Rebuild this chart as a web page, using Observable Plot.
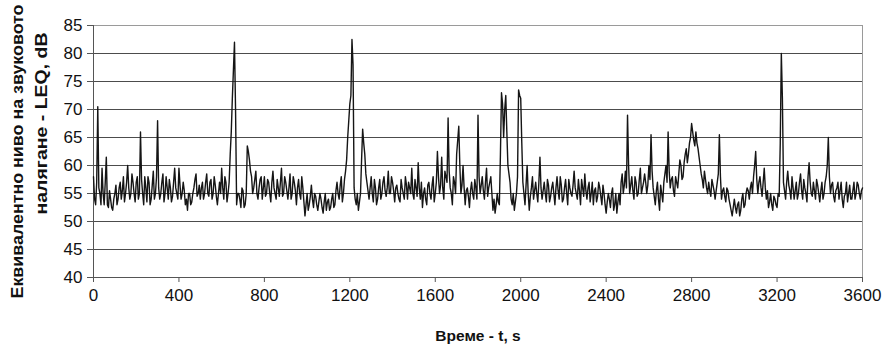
<!DOCTYPE html>
<html>
<head>
<meta charset="utf-8">
<script src="https://cdn.jsdelivr.net/npm/d3@7"></script>
<script src="https://cdn.jsdelivr.net/npm/@observablehq/plot@0.6"></script>
<style>
  html, body { margin: 0; padding: 0; background: white; }
  #chart { width: 884px; height: 346px; overflow: hidden; }
</style>
</head>
<body>
<div id="chart"></div>
<script>
// Sampling step of the series, seconds (values on the 10 s grid, plus readings half-way)
const step = 10;

// LEQ values, dB, at t = 0, 10, 20, ... s
const seg0000 = [58,53,70.5,55,59.5,53,61.5,52.5,54,52,55,53,56,54,58,55,60,54,58.5,55,
  57,54,66,55,58,53.5,57,54,59,55,68,54,57,53.5,58,54,56,54.5,59.5,55,
  59.5,54,57,53,52,55,53.5,56,58.5,55,54,57,55,58.5,54.5,57.5,55,56.5,53,57];
const seg0600 = [59.5,54,57,55,62,72,82,53,55,52.5,55.5,53,63.5,61,58,56,59,54,57.5,54,
  58,55,57,53.5,59,55,57.5,54.5,59.5,55,57,54,58.5,55,57,53,57.5,54,56,51,
  55,53,56.5,52.5,54.5,52,55,52.5,53.5,52,54,52.5,55,53,57,54,58,55,59,65];
const seg1200 = [71,82.5,56,53,52,55,66.5,62,57,54,58,53.5,56,54,57.5,55,58,54.5,59,55,
  57,53.5,56.5,54,57.5,55,58,54,56,59.5,54,56,60.5,54,52.5,56,53,57,54,58,
  55,62.5,55,61.5,54,58,68.5,56,53,57,62,67,55,60,53,56,52.5,57,54,56];
const seg1800 = [69,55,58,54,59.5,56,58,52,51.5,55,53,73,65,72.5,60,57,53,52,55,73.5,
  72,57,53,60,52,56,54,57,53.5,61.5,54,57,53.5,56.5,54.5,57,53,58,54,56.5,
  54,57.5,53,56,54.5,59,55,57.5,53,56,58.5,54,57,55,53,56,54.5,56,53,55];
const seg2400 = [51.5,55,52.5,56,53,51.5,55,57,55,59,69,55,58,54,57,55,59.5,56,58.5,55,
  60,65.5,56,53,57,52,55,57,60,66,56,58,54.5,57,58.5,60,58,62,60.5,64,
  67.5,64.5,66,63,60,57.5,59,56,57,54.5,56.5,54,57,65.5,54,56,53.5,55.5,53,51];
const seg3000 = [54,51.5,53.5,52,55,53,56,54,57,58,62.5,55,58,54.5,59.5,54,52.5,55,52,54,
  52.5,54.5,80,57,54,59,55.5,58,54,57,55,58.5,54,56,53.5,60.5,55,57,54,56.5,
  53.5,57,55,58,65,55,57,53.5,56,54,57,52.5,55,53.5,56.5,54,57,55,56.5,54,56];

// LEQ values, dB, at t = 5, 15, 25, ... s
const mid0000 = [54,57,56,53,55,57,53,55.5,52.5,54,
  56.5,54,57,55.5,53.5,57,56,55,57,53.5,
  58,55,57.5,53,56,58,53,56.5,54,58,
  56,55,58.5,55,56,57.5,53.5,57,56,54,
  56.5,55,55.5,54,55,53,55,57.5,54.5,56.5,
  56,54,57,55,57,54,58,54.5,55,55];
const mid0600 = [56,58,53.5,57,66,77,70,55,54,56,
  52.5,55,62.5,59,55,57.5,55,56,58,56,
  54.5,57.5,55,57,56,54,56,57,54.5,58,
  55.5,56,54,58,55.5,56,55,58,53.5,53,
  52,54.5,54,55,53,53.5,54,51.5,55,53.5,
  52,54,52.5,55.5,55,56.5,53.5,57.5,61,68];
const mid1200 = [72.5,78,54,55,53.5,61,64,58.5,55.5,56,
  55,57.5,53,56,54,57,55.5,56,55,58,
  55.5,56,55,53.5,56,54,56.5,57,55,55,
  57.5,54.5,56,57,55,54,56.5,55,56.5,53.5,
  57,58,56.5,56,59,57,59,55,58,55,
  64.5,60,56.5,56,55.5,54.5,55.5,55,57.5,54];
const mid1800 = [58,56.5,55.5,57,54.5,57,55,54,53,53.5,
  62,71,70,66,58.5,54,55,53.5,58,72.5,
  64,55,56.5,55,54.5,58,55.5,55,57,56,
  55.5,55,57.5,53.5,56,55,56,55.5,58,53.5,
  56,55,57.5,55,56.5,56,54,55.5,57.5,54.5,
  55.5,56,53.5,57,55.5,53.5,57,54.5,56.5,53];
const mid2400 = [53.5,54,55,52,55,53.5,53,58.5,56.5,56,
  60,56.5,55.5,58,54.5,57.5,55,57,57,56.5,
  57.5,59,54.5,55.5,54,56.5,53.5,58.5,57,59,
  57.5,55.5,58,56,61,57.5,60.5,63,62,65,
  66,63.5,64,61.5,58.5,56,57.5,55,55.5,57.5,
  55.5,55.5,58.5,58,55.5,54.5,56,54,52,52.5];
const mid3000 = [52.5,53,51,54,52.5,55,55.5,56,55,60,
  57.5,57,56,57,56,55.5,53.5,53,54.5,53,
  55,64,72,55.5,57,56.5,54,56,55.5,54,
  57,55.5,57.5,55,58,57,54.5,55.5,57.5,55,
  55.5,54,57,60,58,56.5,54.5,55.5,57,55.5,
  54,54.5,57,55,54,55.5,54,57,55,55.5];

// Axis ticks
const xTicks = [0,400,800,1200,1600,2000,2400,2800,3200,3600];
const yTicks = [40,45,50,55,60,65,70,75,80,85];

// Texts
const xTitle = "Време - t, s";
const yTitle1 = "Еквивалентно ниво на звуковото";
const yTitle2 = "налягане - LEQ, dB";

const main = [...seg0000, ...seg0600, ...seg1200, ...seg1800, ...seg2400, ...seg3000];
const mids = [...mid0000, ...mid0600, ...mid1200, ...mid1800, ...mid2400, ...mid3000];
const data = [];
for (let i = 0; i < main.length; i++) {
  data.push({t: i * step, v: main[i]});
  if (i < mids.length) data.push({t: i * step + step / 2, v: mids[i]});
}

const font = "'Liberation Sans', Arial, Helvetica, sans-serif";

const chart = Plot.plot({
  width: 884,
  height: 346,
  marginLeft: 93,
  marginRight: 22,
  marginTop: 25,
  marginBottom: 69,
  style: {fontFamily: font, background: "white", color: "#111", overflow: "hidden"},
  x: {domain: [0, 3600]},
  y: {domain: [40, 85]},
  marks: [
    Plot.gridY(yTicks, {stroke: "#000", strokeOpacity: 0.7, strokeWidth: 1}),
    Plot.frame({stroke: "#9a9a9a"}),
    Plot.ruleX([0], {stroke: "#555"}),
    Plot.ruleY([40], {stroke: "#555"}),
    Plot.axisX({ticks: xTicks, tickSize: 5, tickPadding: 6, fontSize: 17, label: null, tickFormat: "d", stroke: "#555"}),
    Plot.axisY({ticks: yTicks, tickSize: 6, tickPadding: 5, fontSize: 17, label: null, stroke: "#555"}),
    Plot.line(data, {x: "t", y: "v", stroke: "#151515", strokeWidth: 1.4}),
    Plot.text([xTitle], {frameAnchor: "bottom", dy: 59, lineAnchor: "middle", fontWeight: "bold", fontSize: 15.5, fill: "#111"}),
    Plot.text([yTitle1], {className: "ytitle1", frameAnchor: "left", dx: -75.5, dy: 147, rotate: -90, lineAnchor: "middle", textAnchor: "start", fontWeight: "bold", fontSize: 17, fill: "#111"}),
    Plot.text([yTitle2], {className: "ytitle2", frameAnchor: "left", dx: -52, dy: 63, rotate: -90, lineAnchor: "middle", textAnchor: "start", fontWeight: "bold", fontSize: 17, fill: "#111"})
  ]
});
// stretch the rotated title lines to the lengths seen in the reference
d3.select(chart).selectAll("g.ytitle1 text").attr("textLength", 294).attr("lengthAdjust", "spacingAndGlyphs");
d3.select(chart).selectAll("g.ytitle2 text").attr("textLength", 182).attr("lengthAdjust", "spacingAndGlyphs");
document.getElementById("chart").appendChild(chart);
</script>
</body>
</html>
